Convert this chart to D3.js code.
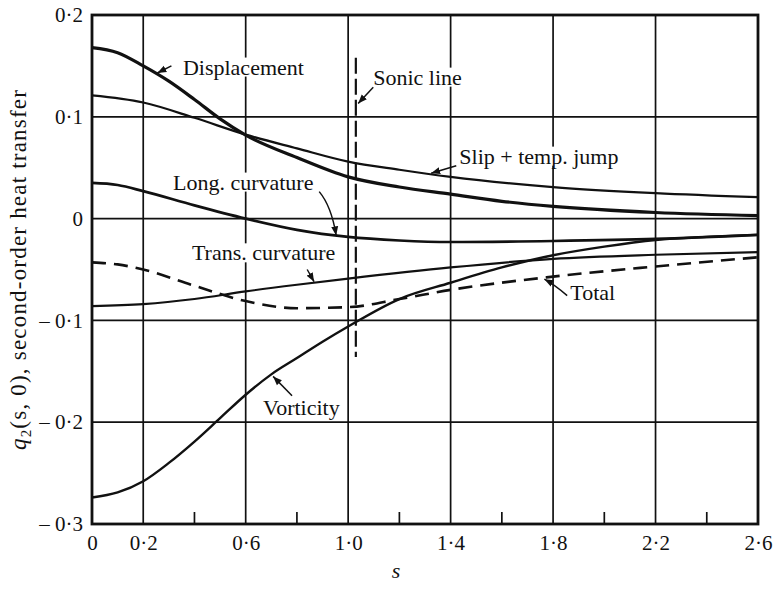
<!DOCTYPE html>
<html>
<head>
<meta charset="utf-8">
<script src="https://cdn.jsdelivr.net/npm/d3@7"></script>
<style>
  body { margin: 0; background: #fff; }
  svg text { font-family: "Liberation Serif", "Times New Roman", serif; fill: #111; }
</style>
</head>
<body>
<div id="chart"></div>
<script>
// values, q2(s,0) against s
const dispS = [0, 0.1, 0.2, 0.3, 0.4, 0.5, 0.6, 0.8, 1.0, 1.2, 1.4, 1.6, 1.8, 2.2, 2.6]
const dispQ = [0.168, 0.163, 0.150, 0.135, 0.117, 0.098, 0.082, 0.060, 0.041, 0.031, 0.024, 0.017, 0.012, 0.006, 0.003]

const slipS = [0, 0.2, 0.4, 0.6, 0.8, 1.0, 1.2, 1.4, 1.8, 2.2, 2.6]
const slipQ = [0.121, 0.114, 0.099, 0.0825, 0.069, 0.056, 0.048, 0.041, 0.031, 0.025, 0.021]

const longS = [0, 0.1, 0.2, 0.4, 0.6, 0.8, 1.0, 1.2, 1.4, 1.8, 2.2, 2.6]
const longQ = [0.035, 0.033, 0.027, 0.013, 0.0, -0.011, -0.018, -0.0215, -0.023, -0.022, -0.020, -0.016]

const transS = [0, 0.2, 0.4, 0.6, 0.8, 1.0, 1.4, 1.8, 2.2, 2.6]
const transQ = [-0.086, -0.084, -0.079, -0.0715, -0.065, -0.059, -0.048, -0.0395, -0.0355, -0.033]

const totalS = [0, 0.1, 0.2, 0.4, 0.6, 0.8, 1.0, 1.2, 1.4, 1.8, 2.2, 2.6]
const totalQ = [-0.043, -0.045, -0.050, -0.066, -0.081, -0.088, -0.087, -0.079, -0.070, -0.057, -0.047, -0.038]

const vortS = [0, 0.1, 0.2, 0.3, 0.4, 0.5, 0.6, 0.7, 0.8, 0.9, 1.0, 1.2, 1.4, 1.6, 1.8, 2.0, 2.2, 2.4, 2.6]
const vortQ = [-0.274, -0.269, -0.258, -0.240, -0.219, -0.196, -0.173, -0.153, -0.137, -0.121, -0.106, -0.079, -0.063, -0.048, -0.036, -0.0275, -0.021, -0.018, -0.016]

const sonicS = 1.03
const sonicQ = [0.158, -0.136]

const xTicks = [0, 0.2, 0.6, 1.0, 1.4, 1.8, 2.2, 2.6]
const xGrid = [0.2, 0.6, 1.0, 1.4, 1.8, 2.2]
const xMinor = [0.4, 0.8, 1.2, 1.6, 2.0, 2.4]
const yTicks = [-0.3, -0.2, -0.1, 0, 0.1, 0.2]
const yGrid = [-0.2, -0.1, 0, 0.1]

// label text, text anchor point and arrow (tail -> head) in data units
const notes = [
  {text: "Displacement", at: [0.355, 0.1415], arrow: [[0.31, 0.150], [0.255, 0.143]]},
  {text: "Sonic line", at: [1.098, 0.1316], arrow: [[1.098, 0.129], [1.039, 0.113]]},
  {text: "Slip + temp. jump", at: [1.434, 0.054], arrow: [[1.422, 0.052], [1.324, 0.0445]]},
  {text: "Long. curvature", at: [0.316, 0.0285], arrow: [[0.887, 0.0265], [0.935, 0.012], [0.953, -0.0165]]},
  {text: "Trans. curvature", at: [0.39, -0.041], arrow: [[0.84, -0.050], [0.867, -0.062]]},
  {text: "Total", at: [1.867, -0.0796], arrow: [[1.855, -0.0756], [1.80, -0.064], [1.766, -0.0595]]},
  {text: "Vorticity", at: [0.668, -0.1925], arrow: [[0.781, -0.174], [0.707, -0.155]]}
]

function pairs(xs, ys){ return xs.map((v,i)=>[v, ys[i]]) }
function fmt(v){
    if(Math.abs(v) < 1e-9) return "0"
    let t = Math.abs(v).toFixed(1).replace(".", "\u00b7")
    return v < 0 ? "\u2013 " + t : t
}

const svgWidth = 777
const svgHeight = 589
const svg = d3.select("#chart").append("svg").attr("width", svgWidth).attr("height", svgHeight)

const x = d3.scaleLinear().domain([0, 2.6]).range([92, 758])
const y = d3.scaleLinear().domain([-0.3, 0.2]).range([524, 15])

svg.append("defs").append("marker")
    .attr("id", "head").attr("markerUnits", "userSpaceOnUse")
    .attr("markerWidth", 10).attr("markerHeight", 8)
    .attr("refX", 9).attr("refY", 4).attr("orient", "auto")
  .append("path").attr("d", "M0,0.5 L9,4 L0,7.5 Z").attr("fill", "#111")

// grid
const grid = svg.append("g").attr("stroke", "#111").attr("stroke-width", 1.7)
grid.selectAll("line.v").data(xGrid).enter().append("line").attr("class", "v")
    .attr("x1", d=>x(d)).attr("x2", d=>x(d)).attr("y1", y(0.2)).attr("y2", y(-0.3))
grid.selectAll("line.h").data(yGrid).enter().append("line").attr("class", "h")
    .attr("x1", x(0)).attr("x2", x(2.6)).attr("y1", d=>y(d)).attr("y2", d=>y(d))
grid.selectAll("line.m").data(xMinor).enter().append("line").attr("class", "m")
    .attr("x1", d=>x(d)).attr("x2", d=>x(d)).attr("y1", y(-0.3)).attr("y2", y(-0.3) - 12)

// sonic line
svg.append("line")
    .attr("x1", x(sonicS)).attr("x2", x(sonicS)).attr("y1", y(sonicQ[0])).attr("y2", y(sonicQ[1]))
    .attr("stroke", "#111").attr("stroke-width", 2.2).attr("stroke-dasharray", "16,5")

// curves
const line = d3.line().x(d=>x(d[0])).y(d=>y(d[1])).curve(d3.curveMonotoneX)
const curves = [
    {data: pairs(slipS, slipQ), w: 2.2},
    {data: pairs(dispS, dispQ), w: 3.2},
    {data: pairs(longS, longQ), w: 2.7},
    {data: pairs(transS, transQ), w: 2.2},
    {data: pairs(vortS, vortQ), w: 2.4},
    {data: pairs(totalS, totalQ), w: 2.6, dash: "14,8"}
]
svg.append("g").selectAll("path").data(curves).enter().append("path")
    .attr("d", d=>line(d.data))
    .attr("fill", "none").attr("stroke", "#111")
    .attr("stroke-width", d=>d.w)
    .attr("stroke-dasharray", d=>d.dash || null)

// labels with white knock-out and arrows
const noteG = svg.append("g")
notes.forEach(function(n){
    let g = noteG.append("g")
    let bg = g.append("rect").attr("fill", "#fff")
    let t = g.append("text").attr("x", x(n.at[0])).attr("y", y(n.at[1]))
        .attr("font-size", 22).text(n.text)
    let b = t.node().getBBox()
    bg.attr("x", b.x - 1).attr("y", b.y + 3).attr("width", b.width + 2).attr("height", b.height - 6)
    let pts = n.arrow.map(p=>[x(p[0]), y(p[1])])
    let d
    if(pts.length == 3){
        d = `M${pts[0][0]},${pts[0][1]} Q${pts[1][0]},${pts[1][1]} ${pts[2][0]},${pts[2][1]}`
    }else{
        d = `M${pts[0][0]},${pts[0][1]} L${pts[1][0]},${pts[1][1]}`
    }
    g.append("path").attr("d", d).attr("fill", "none").attr("stroke", "#111")
        .attr("stroke-width", 1.5).attr("marker-end", "url(#head)")
})

// frame
svg.append("rect").attr("x", x(0)).attr("y", y(0.2))
    .attr("width", x(2.6) - x(0)).attr("height", y(-0.3) - y(0.2))
    .attr("fill", "none").attr("stroke", "#111").attr("stroke-width", 2.8)

// axes (labels only, the frame draws the lines)
const xAxis = d3.axisBottom(x).tickValues(xTicks).tickSize(0).tickPadding(11).tickFormat(fmt)
const yAxis = d3.axisLeft(y).tickValues(yTicks).tickSize(0).tickPadding(9).tickFormat(fmt)
const xa = svg.append("g").attr("transform", `translate(0,${y(-0.3)})`).call(xAxis)
const ya = svg.append("g").attr("transform", `translate(${x(0)},0)`).call(yAxis)
;[xa, ya].forEach(function(a){
    a.select(".domain").remove()
    a.selectAll("text").attr("font-size", 21).attr("font-family", "Liberation Serif").attr("fill", "#111")
})

// axis titles
svg.append("text").attr("x", 396).attr("y", 578).attr("text-anchor", "middle")
    .attr("font-size", 22).attr("font-style", "italic").text("s")

const yt = svg.append("text").attr("transform", `translate(26,${(y(0.2) + y(-0.3)) / 2}) rotate(-90)`)
    .attr("text-anchor", "middle").attr("font-size", 23).attr("letter-spacing", 1.2)
yt.append("tspan").attr("font-style", "italic").text("q")
yt.append("tspan").attr("font-size", 15).attr("dy", 5).text("2")
yt.append("tspan").attr("dy", -5).text("(s, 0), second-order heat transfer")
</script>
</body>
</html>
